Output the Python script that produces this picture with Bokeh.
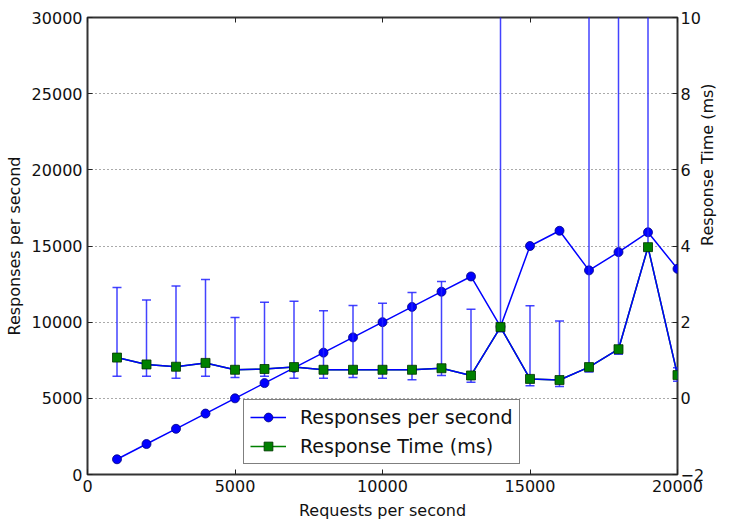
import math
from bokeh.plotting import figure
from bokeh.models import Range1d, LinearAxis, Legend, LegendItem, ColumnDataSource, FixedTicker
from bokeh.embed import file_html
from bokeh.resources import INLINE

requests = [1000, 2000, 3000, 4000, 5000, 6000, 7000, 8000, 9000, 10000,
            11000, 12000, 13000, 14000, 15000, 16000, 17000, 18000, 19000, 20000]
responses = [1000, 2000, 3000, 4000, 5000, 6000, 7000, 8000, 9000, 10000,
             11000, 12000, 13000, 9700, 15000, 16000, 13400, 14600, 15900, 13500]
rt_mean = [1.07, 0.89, 0.83, 0.93, 0.75, 0.77, 0.82, 0.75, 0.75, 0.75,
           0.75, 0.79, 0.60, 1.87, 0.51, 0.48, 0.82, 1.29, 3.97, 0.61]
rt_upper = [2.91, 2.58, 2.95, 3.12, 2.12, 2.52, 2.55, 2.30, 2.44, 2.50,
            2.78, 3.07, 2.34, 40.0, 2.43, 2.03, 30.0, 30.0, 30.0, 0.80]
rt_lower = [0.58, 0.58, 0.53, 0.58, 0.55, 0.58, 0.53, 0.53, 0.55, 0.53,
            0.49, 0.60, 0.42, 1.75, 0.33, 0.31, 0.69, 1.16, 3.90, 0.45]

FONT = "DejaVu Sans"

src = ColumnDataSource(dict(x=requests, resp=responses, rt=rt_mean, up=rt_upper, lo=rt_lower))

p = figure(width=729, height=522, x_range=Range1d(0, 20000), y_range=Range1d(0, 30000),
           output_backend="svg", toolbar_location=None,
           min_border_left=87, min_border_right=49, min_border_top=17, min_border_bottom=46)
p.extra_y_ranges = {"rt": Range1d(-2, 10)}

p.xgrid.visible = False
p.ygrid.grid_line_color = "#555555"
p.ygrid.grid_line_dash = "1 3"
p.ygrid.grid_line_width = 1
p.ygrid.ticker = FixedTicker(ticks=[0, 5000, 10000, 15000, 20000, 25000, 30000])

p.outline_line_color = "#333333"
p.outline_line_width = 2
p.outline_line_alpha = 1
p.background_fill_color = "white"
p.border_fill_color = "white"

def style_axis(ax):
    ax.axis_line_color = None
    ax.major_tick_in = 5
    ax.major_tick_out = 0
    ax.minor_tick_line_color = None
    ax.major_tick_line_color = "#222222"
    ax.major_label_text_font = FONT
    ax.major_label_text_font_size = "16px"
    ax.major_label_text_color = "#111111"
    ax.axis_label_text_font = FONT
    ax.axis_label_text_font_size = "16px"
    ax.axis_label_text_font_style = "normal"
    ax.axis_label_text_color = "#111111"
    ax.major_label_standoff = 5

style_axis(p.xaxis[0])
p.xaxis[0].ticker = FixedTicker(ticks=[0, 5000, 10000, 15000, 20000])
p.xaxis[0].axis_label = "Requests per second"
p.xaxis[0].axis_label_standoff = 6

style_axis(p.yaxis[0])
p.yaxis[0].ticker = FixedTicker(ticks=[0, 5000, 10000, 15000, 20000, 25000, 30000])
p.yaxis[0].axis_label = "Responses per second"
p.yaxis[0].axis_label_standoff = 5

right = LinearAxis(y_range_name="rt", axis_label="Response Time (ms)")
style_axis(right)
right.ticker = FixedTicker(ticks=[-2, 0, 2, 4, 6, 8, 10])
right.major_label_overrides = {-2: "\u22122"}
right.major_label_standoff = 3
right.axis_label_standoff = 0
right.axis_label_orientation = math.pi / 2
p.add_layout(right, "right")

top = LinearAxis()
style_axis(top)
top.ticker = FixedTicker(ticks=[0, 5000, 10000, 15000, 20000])
top.major_label_text_font_size = "0px"
top.major_label_standoff = 0
p.add_layout(top, "above")

# responses per second
r_line = p.line("x", "resp", source=src, line_color="#0000ff", line_width=1.5)
r_circ = p.scatter("x", "resp", source=src, marker="circle", size=9,
                   fill_color="#0000ff", line_color="#000080", line_width=0.8)

# error bars on response time
p.segment(x0="x", y0="lo", x1="x", y1="up", source=src, y_range_name="rt",
          line_color="#2222ff", line_width=1.5, line_alpha=0.85)
p.scatter("x", "up", source=src, y_range_name="rt", marker="dash", size=9,
          line_color="#2222ff", line_width=1.5, line_alpha=0.85)
p.scatter("x", "lo", source=src, y_range_name="rt", marker="dash", size=9,
          line_color="#2222ff", line_width=1.5, line_alpha=0.85)

# response time
g_line = p.line("x", "rt", source=src, y_range_name="rt", line_color="#008000", line_width=1.5)
t_line = p.line("x", "rt", source=src, y_range_name="rt", line_color="#0000ff", line_width=1.5)
t_sq = p.scatter("x", "rt", source=src, y_range_name="rt", marker="square", size=9,
                 fill_color="#008000", line_color="#003300", line_width=0.8)

legend = Legend(items=[
    LegendItem(label="Responses per second", renderers=[r_line, r_circ]),
    LegendItem(label="Response Time (ms)", renderers=[g_line, t_sq]),
], location=(156, 10))
legend.label_text_font = FONT
legend.label_text_font_size = "19px"
legend.label_text_color = "#111111"
legend.border_line_color = "black"
legend.border_line_width = 1
legend.background_fill_alpha = 1
legend.glyph_width = 36
legend.glyph_height = 22
legend.label_height = 22
legend.label_standoff = 14
legend.spacing = 7
legend.padding = 6
legend.margin = 0
p.add_layout(legend, "center")

open("out.html", "w").write(file_html(p, INLINE))
